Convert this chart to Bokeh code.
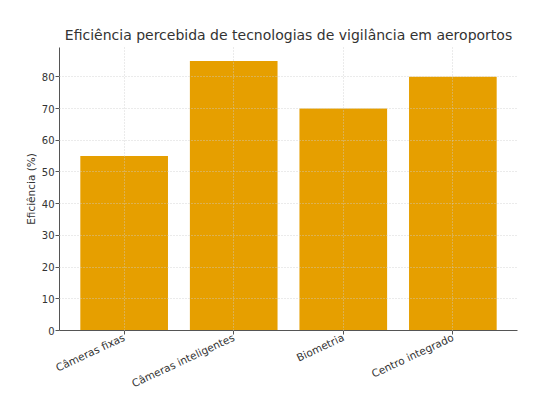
from bokeh.plotting import figure
from bokeh.models import FixedTicker, Range1d
from bokeh.embed import file_html
from bokeh.resources import INLINE
import math

categories = ["Câmeras fixas", "Câmeras inteligentes", "Biometria", "Centro integrado"]
values = [55, 85, 70, 80]
y_ticks = [0, 10, 20, 30, 40, 50, 60, 70, 80]

xs = list(range(len(categories)))

p = figure(width=548, height=397, output_backend="svg", toolbar_location=None,
           x_range=Range1d(-0.59, len(categories) - 1 + 0.59),
           y_range=Range1d(0, max(values) * 1.05),
           min_border_left=59, min_border_right=31, min_border_top=47, min_border_bottom=67)

p.vbar(x=xs, top=values, width=0.8, color="#E69F00", line_color=None)

p.title.text = "Eficiência percebida de tecnologias de vigilância em aeroportos"
p.title.text_font = "DejaVu Sans"
p.title.text_font_size = "14px"
p.title.text_font_style = "normal"
p.title.text_color = "#333333"
p.title.align = "center"
p.title.offset = 0

p.outline_line_color = None

for ax in (p.xaxis[0], p.yaxis[0]):
    ax.axis_line_color = "#555555"
    ax.major_tick_line_color = "#555555"
    ax.major_tick_in = 0
    ax.major_tick_out = 4
    ax.minor_tick_line_color = None
    ax.major_label_text_font = "DejaVu Sans"
    ax.major_label_text_color = "#333333"

p.xaxis.major_label_text_font_size = "10.5px"
p.xaxis.major_label_standoff = 2
p.yaxis.major_label_text_font_size = "10px"
p.yaxis.major_label_standoff = 1

p.xaxis.ticker = FixedTicker(ticks=xs)
p.xaxis.major_label_overrides = {i: c for i, c in enumerate(categories)}
p.xaxis.major_label_orientation = math.radians(25)

p.yaxis.ticker = FixedTicker(ticks=y_ticks)
p.yaxis.axis_label = "Eficiência (%)"
p.yaxis.axis_label_text_font = "DejaVu Sans"
p.yaxis.axis_label_text_font_size = "10.5px"
p.yaxis.axis_label_text_font_style = "normal"
p.yaxis.axis_label_text_color = "#333333"
p.yaxis.axis_label_standoff = 2

for g in (p.xgrid[0], p.ygrid[0]):
    g.grid_line_color = "#cccccc"
    g.grid_line_dash = "1 2"
    g.grid_line_width = 0.8
    g.level = "overlay"

open("out.html", "w").write(file_html(p, INLINE))
